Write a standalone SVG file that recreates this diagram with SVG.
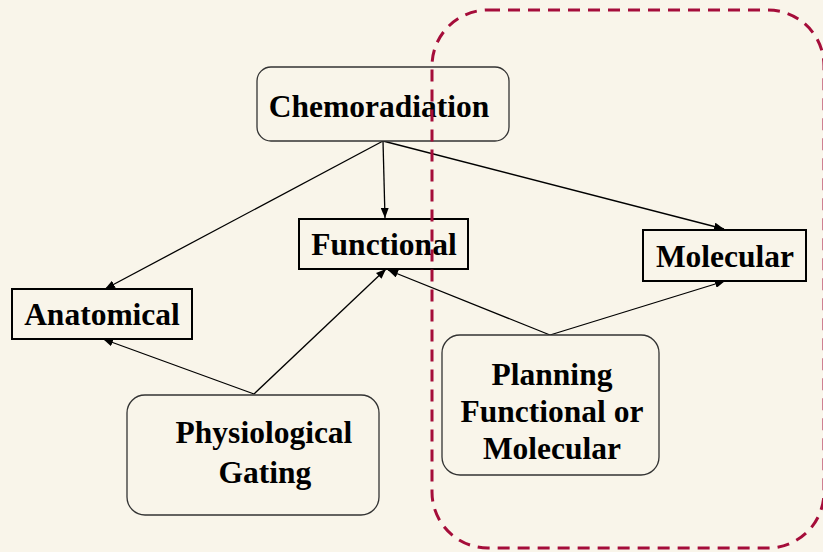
<svg xmlns="http://www.w3.org/2000/svg" width="823" height="552" viewBox="0 0 823 552">
<defs>
<style>
.lbl{font-family:"Liberation Serif","Times New Roman",serif;font-weight:bold;font-size:31.5px;fill:#000;text-anchor:middle}
.rbox{fill:#F9F5EA;stroke:#333;stroke-width:1.3}
.sbox{fill:#F9F5EA;stroke:#000;stroke-width:2}
.conn{stroke:#000;stroke-width:1.3;fill:none;marker-end:url(#ah)}
.region{fill:none;stroke:#A50D3A;stroke-width:3;stroke-dasharray:12 8}
</style>
<marker id="ah" viewBox="0 0 10 8" refX="10" refY="4" markerWidth="10" markerHeight="8" markerUnits="userSpaceOnUse" orient="auto">
<path d="M0,0 L10,4 L0,8 Z" fill="#000"/>
</marker>
</defs>
<rect x="0" y="0" width="823" height="552" fill="#F9F5EA"/>
<g id="connectors">
<line class="conn" x1="383" y1="141" x2="105" y2="289"/>
<line class="conn" x1="383" y1="141" x2="385" y2="218"/>
<line class="conn" x1="383" y1="141" x2="724" y2="229"/>
<line class="conn" x1="254" y1="394" x2="103" y2="339"/>
<line class="conn" x1="254" y1="394" x2="386" y2="269"/>
<line class="conn" x1="550" y1="335" x2="388" y2="270"/>
<line class="conn" x1="550" y1="335" x2="725" y2="281"/>
</g>
<g id="chemoradiation">
<rect class="rbox" x="257" y="67" width="252" height="74" rx="14"/>
<text class="lbl" x="379" y="117">Chemoradiation</text>
</g>
<g id="functional">
<rect class="sbox" x="299" y="219" width="169" height="50"/>
<text class="lbl" x="384" y="255">Functional</text>
</g>
<g id="anatomical">
<rect class="sbox" x="12" y="289" width="180" height="50"/>
<text class="lbl" x="102" y="325">Anatomical</text>
</g>
<g id="molecular">
<rect class="sbox" x="643" y="230" width="163" height="51"/>
<text class="lbl" x="725" y="267">Molecular</text>
</g>
<g id="physiological-gating">
<rect class="rbox" x="127" y="395" width="252" height="120" rx="18"/>
<text class="lbl" x="264" y="443">Physiological</text>
<text class="lbl" x="265" y="483">Gating</text>
</g>
<g id="planning">
<rect class="rbox" x="442" y="335" width="217" height="140" rx="18"/>
<text class="lbl" x="552" y="385">Planning</text>
<text class="lbl" x="552" y="422">Functional or</text>
<text class="lbl" x="552" y="459">Molecular</text>
</g>
<g id="region">
<rect class="region" x="432" y="10" width="392" height="538" rx="56"/>
</g>
</svg>
